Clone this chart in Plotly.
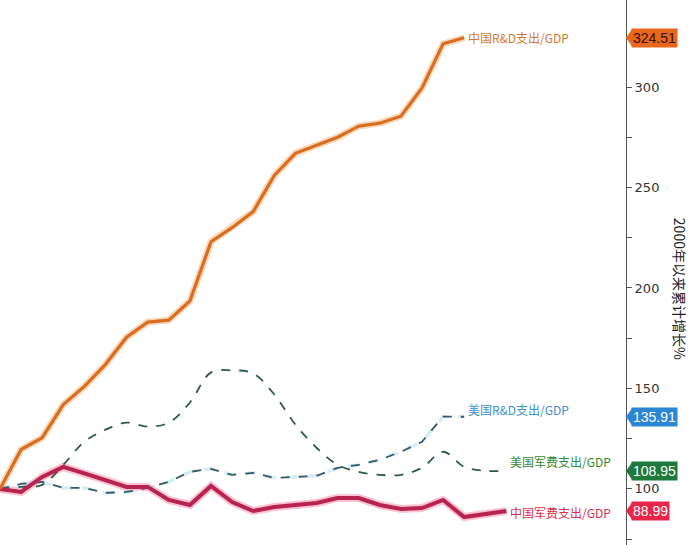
import plotly.graph_objects as go

years_rd = list(range(2000, 2023))
years_mil = list(range(2000, 2025))

cn_rd = [100, 119.6, 125.5, 142, 151, 162, 175.5, 183, 184, 193.5, 223, 230, 238, 256,
         267, 271, 275, 280.5, 282, 285.5, 299.5, 321.5, 324.51]
us_rd = [100, 102.5, 103.5, 100.5, 100.5, 98, 98.5, 100.5, 103.5, 108.5, 110, 107, 108,
         105.5, 106, 106.5, 110.5, 112, 114.5, 118.5, 123.5, 136, 135.91]
us_mil = [100, 101, 102, 112, 123.5, 129.5, 133, 131, 133, 143, 158, 159, 157.5, 147,
          132, 120.5, 112, 108.5, 107, 107, 110.5, 118.5, 111, 109, 108.95]
cn_mil = [100, 98.5, 106, 111, 107.7, 104.3, 101, 101, 94.5, 92, 101.5, 93.5, 89, 91,
          92, 93, 95.5, 95.5, 92, 90, 90.5, 94.5, 86, 87.5, 88.99]

names = ["中国R&D支出/GDP", "美国R&D支出/GDP", "美国军费支出/GDP", "中国军费支出/GDP"]
end_labels = ["324.51", "135.91", "108.95", "88.99"]
y_title = "2000年以来累计增长%"
tick_vals = [100, 150, 200, 250, 300]

fig = go.Figure()

# glows
fig.add_trace(go.Scatter(x=years_rd, y=cn_rd, mode="lines",
                         line=dict(color="rgba(245,170,100,0.45)", width=7), hoverinfo="skip"))
fig.add_trace(go.Scatter(x=years_mil, y=cn_mil, mode="lines",
                         line=dict(color="rgba(245,120,160,0.45)", width=8), hoverinfo="skip"))
fig.add_trace(go.Scatter(x=years_rd, y=us_rd, mode="lines",
                         line=dict(color="rgba(160,215,240,0.45)", width=3.5, dash="dash"),
                         hoverinfo="skip"))

# main lines
fig.add_trace(go.Scatter(x=years_mil, y=us_mil, mode="lines", name=names[2],
                         line=dict(color="#2f5a45", width=1.8, dash="dash", shape="spline",
                                   smoothing=1.0)))
fig.add_trace(go.Scatter(x=years_rd, y=us_rd, mode="lines", name=names[1],
                         line=dict(color="#34586a", width=1.8, dash="dash")))
fig.add_trace(go.Scatter(x=years_mil, y=cn_mil, mode="lines", name=names[3],
                         line=dict(color="#b8234f", width=4)))
fig.add_trace(go.Scatter(x=years_rd, y=cn_rd, mode="lines", name=names[0],
                         line=dict(color="#d96d22", width=3.2)))

annotations = []
# series labels at line ends
series_end = [
    (years_rd[-1], cn_rd[-1], names[0], "#d2782e", 0),
    (years_rd[-1], us_rd[-1], names[1], "#3b8fd0", 7),
    (years_mil[-1], us_mil[-1], names[2], "#2e8a32", 9),
    (years_mil[-1], cn_mil[-1], names[3], "#d8304e", -1),
]
for x, y, t, c, ys in series_end:
    annotations.append(dict(x=x, y=y, xref="x", yref="y", text=t, showarrow=False,
                            xanchor="left", yanchor="middle", xshift=2, yshift=ys,
                            font=dict(family="Noto Sans CJK SC", size=12, color=c)))

# value boxes on the axis
box_specs = [
    (cn_rd[-1], end_labels[0], "#e8671c", "#3a0c00"),
    (us_rd[-1], end_labels[1], "#2b86d6", "#ffffff"),
    (us_mil[-1], end_labels[2], "#1d7a3c", "#ffffff"),
    (cn_mil[-1], end_labels[3], "#e8264c", "#ffffff"),
]
shapes = []
px_per_unit = 545 / (343.3 - 72.1)
half = 8.5 / px_per_unit
for y, t, bg, fc in box_specs:
    annotations.append(dict(x=1, y=y, xref="paper", yref="y", text=t, showarrow=False,
                            xanchor="left", yanchor="middle", xshift=5,
                            bgcolor=bg, borderpad=1,
                            font=dict(family="Liberation Sans", size=14, color=fc)))
    shapes.append(dict(type="path", xref="paper", yref="y",
                       path=f"M 1.0,{y} L {1 + 6/626},{y + half} L {1 + 6/626},{y - half} Z",
                       fillcolor=bg, line=dict(width=0)))

annotations.append(dict(x=1 + 54/626, y=0.47, xref="paper", yref="paper", text=y_title,
                        showarrow=False, textangle=90, xanchor="center", yanchor="middle",
                        font=dict(family="Noto Sans CJK SC", size=14, color="#222222")))

fig.update_layout(
    width=690, height=545,
    margin=dict(l=0, r=64, t=0, b=0, autoexpand=False),
    plot_bgcolor="white", paper_bgcolor="white",
    showlegend=False,
    annotations=annotations,
    shapes=shapes,
    xaxis=dict(range=[2000, 2000 + 626 / 21.1], visible=False),
    yaxis=dict(range=[72.1, 343.3], side="right", showgrid=False, zeroline=False,
               showline=True, linecolor="#555555", linewidth=1,
               ticks="outside", ticklen=5, tickcolor="#555555",
               tickvals=tick_vals,
               minor=dict(ticks="outside", ticklen=5, tickcolor="#555555", dtick=25,
                          tick0=75),
               tickfont=dict(family="DejaVu Sans", size=13, color="#333333"),
               automargin=False),
)

fig.write_html("out.html")
